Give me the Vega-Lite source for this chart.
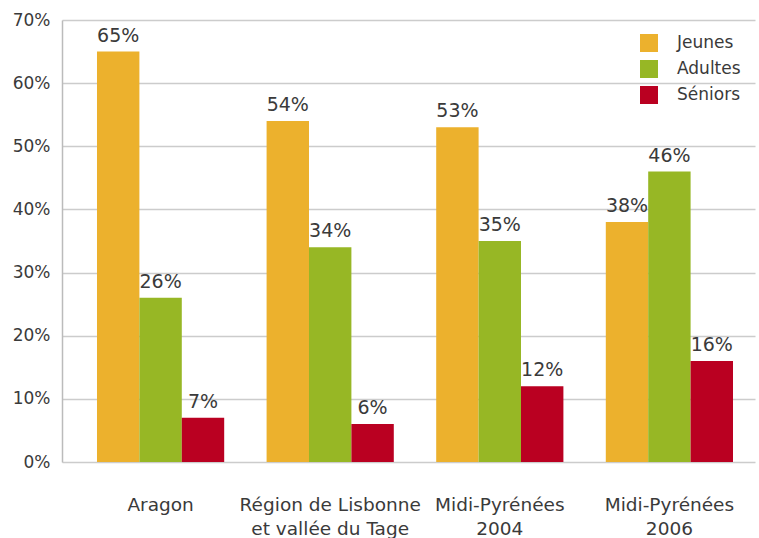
{
  "$schema": "https://vega.github.io/schema/vega-lite/v6.json",
  "autosize": {"type": "none"},
  "padding": {"left": 62, "top": 20, "right": 4, "bottom": 76},
  "width": 693,
  "height": 442,
  "background": "white",
  "config": {
    "font": "DejaVu Sans",
    "view": {"stroke": null},
    "axis": {"labelFont": "DejaVu Sans", "labelColor": "#3a3a3a"},
    "legend": {"labelFont": "DejaVu Sans"},
    "text": {"font": "DejaVu Sans"}
  },
  "data": {
    "values": [
      {"region": "Aragon", "groupe": "Jeunes", "valeur": 0.65},
      {"region": "Aragon", "groupe": "Adultes", "valeur": 0.26},
      {"region": "Aragon", "groupe": "Séniors", "valeur": 0.07},
      {"region": "Région de Lisbonne|et vallée du Tage", "groupe": "Jeunes", "valeur": 0.54},
      {"region": "Région de Lisbonne|et vallée du Tage", "groupe": "Adultes", "valeur": 0.34},
      {"region": "Région de Lisbonne|et vallée du Tage", "groupe": "Séniors", "valeur": 0.06},
      {"region": "Midi-Pyrénées|2004", "groupe": "Jeunes", "valeur": 0.53},
      {"region": "Midi-Pyrénées|2004", "groupe": "Adultes", "valeur": 0.35},
      {"region": "Midi-Pyrénées|2004", "groupe": "Séniors", "valeur": 0.12},
      {"region": "Midi-Pyrénées|2006", "groupe": "Jeunes", "valeur": 0.38},
      {"region": "Midi-Pyrénées|2006", "groupe": "Adultes", "valeur": 0.46},
      {"region": "Midi-Pyrénées|2006", "groupe": "Séniors", "valeur": 0.16}
    ]
  },
  "encoding": {
    "x": {
      "field": "region",
      "type": "nominal",
      "sort": null,
      "scale": {"paddingInner": 0.25, "paddingOuter": 0.168, "align": 0.614},
      "axis": {
        "title": null,
        "labelAngle": 0,
        "labelExpr": "split(datum.label, '|')",
        "labelFontSize": 18.5,
        "labelLineHeight": 24,
        "labelPadding": 42,
        "labelBaseline": "middle",
        "labelLimit": 400,
        "labelOverlap": false,
        "labelBound": false,
        "ticks": false,
        "domain": false
      }
    },
    "xOffset": {"field": "groupe", "type": "nominal", "sort": ["Jeunes", "Adultes", "Séniors"], "scale": {"paddingInner": 0, "paddingOuter": 0}},
    "y": {
      "field": "valeur",
      "type": "quantitative",
      "scale": {"domain": [0, 0.7], "nice": false},
      "axis": {
        "title": null,
        "format": ".0%",
        "values": [0, 0.1, 0.2, 0.3, 0.4, 0.5, 0.6, 0.7],
        "labelFontSize": 17,
        "labelPadding": 12,
        "ticks": false,
        "domain": true,
        "domainColor": "#bbbbbb",
        "domainWidth": 1.5,
        "grid": true,
        "gridColor": "#cccccc",
        "gridWidth": 1.5
      }
    }
  },
  "layer": [
    {
      "mark": {"type": "bar"},
      "encoding": {
        "color": {
          "field": "groupe",
          "type": "nominal",
          "scale": {"domain": ["Jeunes", "Adultes", "Séniors"], "range": ["#ECB12D", "#97B725", "#BA0021"]},
          "legend": {
            "title": null,
            "orient": "none",
            "legendX": 578,
            "legendY": 14,
            "symbolType": "square",
            "symbolSize": 324,
            "symbolStrokeWidth": 0,
            "labelFontSize": 17,
            "labelColor": "#3a3a3a",
            "labelOffset": 19,
            "rowPadding": 8
          }
        }
      }
    },
    {
      "mark": {"type": "text", "baseline": "bottom", "dy": -6, "fontSize": 19, "color": "#3a3a3a"},
      "encoding": {
        "text": {"field": "valeur", "type": "quantitative", "format": ".0%"}
      }
    }
  ]
}
